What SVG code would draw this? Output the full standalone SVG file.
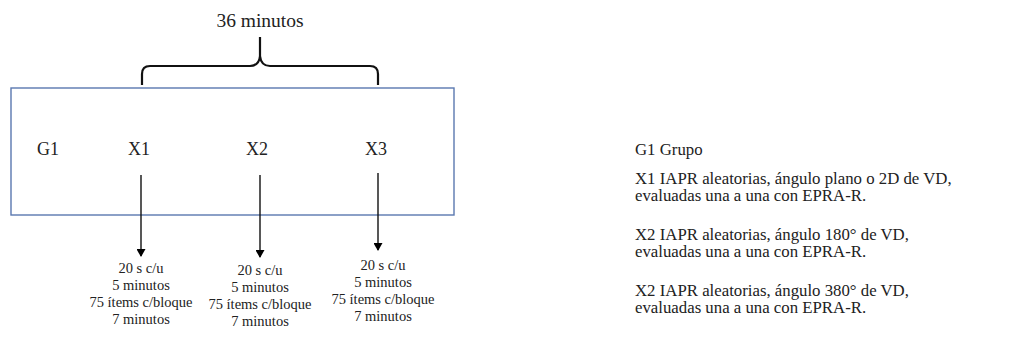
<svg xmlns="http://www.w3.org/2000/svg" width="1016" height="358" viewBox="0 0 1016 358">
<defs>
<marker id="ah" markerWidth="8" markerHeight="9" refX="7" refY="4.5" orient="auto" markerUnits="userSpaceOnUse"><path d="M0,0 L8,4.5 L0,9 Z" fill="#000"/></marker>
<style>
.t{font-family:"Liberation Serif","Times New Roman",serif;fill:#222}
.lbl{font-size:18px}
.sm{font-size:14.5px;text-anchor:middle}
.leg{font-size:16.8px}
.con{stroke:#111;stroke-width:1.4;fill:none;marker-end:url(#ah)}
</style>
</defs>
<rect width="1016" height="358" fill="#fff"/>
<g id="frame"><rect x="11" y="88" width="443" height="127" fill="none" stroke="#5a78b0" stroke-width="1.4"/></g>
<g id="brace"><path d="M142,85 L142,74 Q142,66 150,66 L250,66 Q259,66 260,56 L260,37 M260,56 Q261,66 270,66 L370,66 Q378,66 378,74 L378,85" fill="none" stroke="#111" stroke-width="2.2"/>
<text class="t" x="260" y="27" font-size="19.5" text-anchor="middle">36 minutos</text></g>
<g id="G1"><text class="t lbl" x="37" y="155">G1</text></g>
<g id="X1"><text class="t lbl" x="139" y="155" text-anchor="middle">X1</text></g>
<g id="X2"><text class="t lbl" x="257" y="155" text-anchor="middle">X2</text></g>
<g id="X3"><text class="t lbl" x="376" y="155" text-anchor="middle">X3</text></g>
<g id="connectors">
<line class="con" x1="141" y1="175" x2="141" y2="256"/>
<line class="con" x1="260" y1="175" x2="260" y2="257"/>
<line class="con" x1="378" y1="173" x2="378" y2="250"/>
</g>
<g id="detail1"><text class="t sm" x="141" y="273"><tspan x="141">20 s c/u</tspan><tspan x="141" dy="17">5 minutos</tspan><tspan x="141" dy="17">75 ítems c/bloque</tspan><tspan x="141" dy="17">7 minutos</tspan></text></g>
<g id="detail2"><text class="t sm" x="260" y="275"><tspan x="260">20 s c/u</tspan><tspan x="260" dy="17">5 minutos</tspan><tspan x="260" dy="17">75 ítems c/bloque</tspan><tspan x="260" dy="17">7 minutos</tspan></text></g>
<g id="detail3"><text class="t sm" x="383" y="270"><tspan x="383">20 s c/u</tspan><tspan x="383" dy="17">5 minutos</tspan><tspan x="383" dy="17">75 ítems c/bloque</tspan><tspan x="383" dy="17">7 minutos</tspan></text></g>
<g id="legend">
<text class="t leg" x="635" y="155">G1 Grupo</text>
<text class="t leg" x="635" y="184">X1 IAPR aleatorias, ángulo plano o 2D de VD,</text>
<text class="t leg" x="635" y="201">evaluadas una a una con EPRA-R.</text>
<text class="t leg" x="635" y="240">X2 IAPR aleatorias, ángulo 180° de VD,</text>
<text class="t leg" x="635" y="257">evaluadas una a una con EPRA-R.</text>
<text class="t leg" x="635" y="296">X2 IAPR aleatorias, ángulo 380° de VD,</text>
<text class="t leg" x="635" y="313">evaluadas una a una con EPRA-R.</text>
</g>
</svg>
